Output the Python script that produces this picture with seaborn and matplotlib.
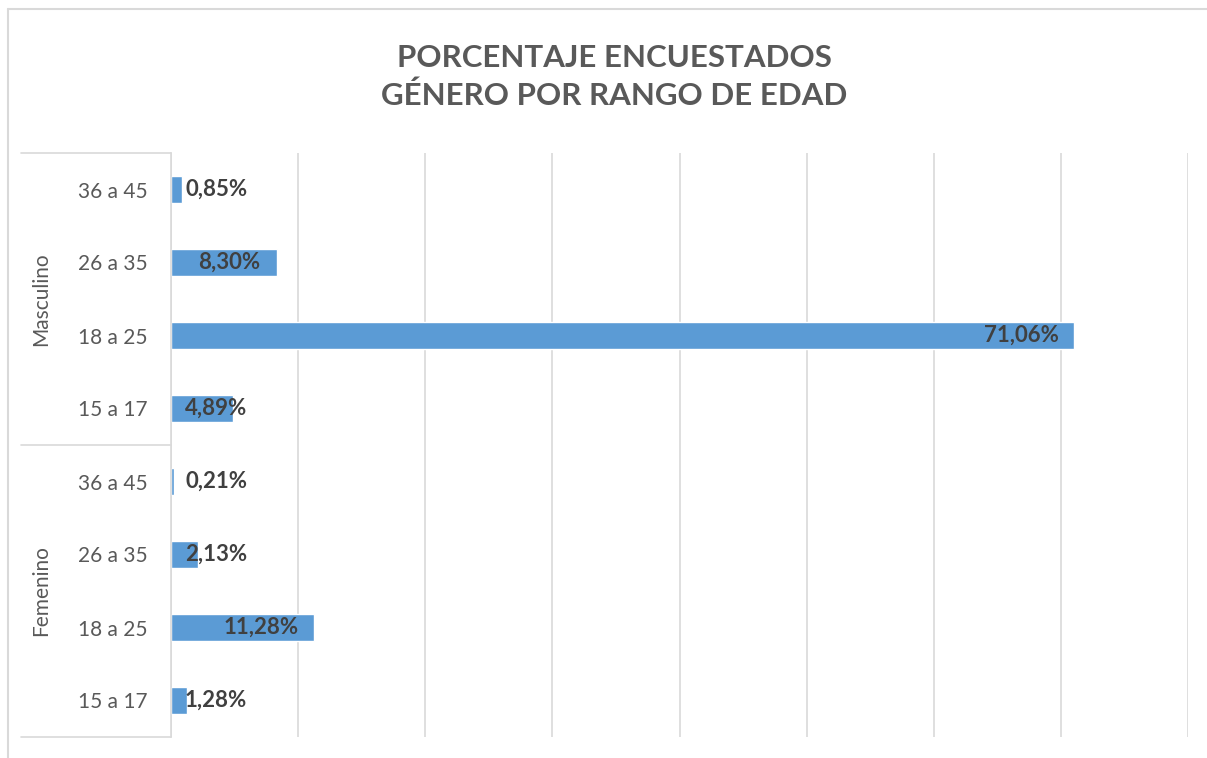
import matplotlib

matplotlib.use("Agg")
import matplotlib.pyplot as plt
import matplotlib.transforms as mtransforms
from matplotlib.lines import Line2D
import pandas as pd
import seaborn as sns

# Data (top to bottom)
genders = ["Masculino"] * 4 + ["Femenino"] * 4
age_ranges = ["36 a 45", "26 a 35", "18 a 25", "15 a 17"] * 2
percentages = [0.85, 8.30, 71.06, 4.89, 0.21, 2.13, 11.28, 1.28]
x_ticks = [0, 10, 20, 30, 40, 50, 60, 70, 80]

BAR_COLOR = "#5B9BD5"
GRID_COLOR = "#D9D9D9"
TEXT_GRAY = "#595959"
LABEL_GRAY = "#404040"

sns.set_style("white")
plt.rcParams["font.family"] = ["Lato", "DejaVu Sans"]

df = pd.DataFrame({"gender": genders, "age": age_ranges, "pct": percentages})
df["key"] = df["gender"] + "|" + df["age"]

fig = plt.figure(figsize=(12.07, 7.58), dpi=100)
ax = fig.add_axes([171 / 1207, 1 - 737 / 758, (1188 - 171) / 1207, (737 - 153) / 758])

sns.barplot(data=df, x="pct", y="key", order=list(df["key"]), color=BAR_COLOR,
            width=0.36, saturation=1, ax=ax, orient="h")

ax.set_xlim(x_ticks[0], x_ticks[-1])
ax.set_ylim(len(df) - 0.5, -0.5)
ax.set_xticks(x_ticks)
ax.set_xticklabels([])
ax.xaxis.grid(True, color=GRID_COLOR, linewidth=1.2)
ax.set_axisbelow(True)
ax.tick_params(axis="both", length=0)
ax.set_yticks(range(len(df)))
ax.set_yticklabels(df["age"], color=TEXT_GRAY, fontsize=15)
ax.tick_params(axis="y", pad=17)
ax.set_xlabel("")
ax.set_ylabel("")
for side in ["top", "right", "bottom"]:
    ax.spines[side].set_visible(False)
ax.spines["left"].set_color(GRID_COLOR)
ax.spines["left"].set_linewidth(1.2)

# Data labels, placed near the bar end like Excel "inside end"
for i, v in enumerate(df["pct"]):
    label = f"{v:.2f}".replace(".", ",") + "%"
    ax.text(max(v - 1.25, 6.0), i, label, ha="right", va="center",
            fontsize=16, fontweight="bold", color=LABEL_GRAY)

# Two-level category axis: group separators and gender labels
trans = mtransforms.blended_transform_factory(ax.transAxes, ax.transData)
for y in [-0.5, 3.5, 7.5]:
    ax.plot([-150 / 1017, 0], [y, y], color=GRID_COLOR, linewidth=1.2,
            transform=trans, clip_on=False)
ax.text(-130 / 1017, 1.5, "Masculino", rotation=90, ha="center", va="center",
        fontsize=15, color=TEXT_GRAY, transform=trans)
ax.text(-130 / 1017, 5.5, "Femenino", rotation=90, ha="center", va="center",
        fontsize=15, color=TEXT_GRAY, transform=trans)

# Chart border (top and left visible in the reference)
fig.add_artist(Line2D([8 / 1207, 8 / 1207], [0, 1 - 9 / 758], color=GRID_COLOR, linewidth=1.5))
fig.add_artist(Line2D([8 / 1207, 1], [1 - 9 / 758, 1 - 9 / 758], color=GRID_COLOR, linewidth=1.5))

fig.text(614 / 1207, 1 - 77 / 758, "PORCENTAJE ENCUESTADOS\nGÉNERO POR RANGO DE EDAD",
         ha="center", va="center", fontsize=22.5, fontweight="bold", color=TEXT_GRAY,
         linespacing=1.4)

fig.savefig("out.png", dpi=100)
plt.close(fig)
